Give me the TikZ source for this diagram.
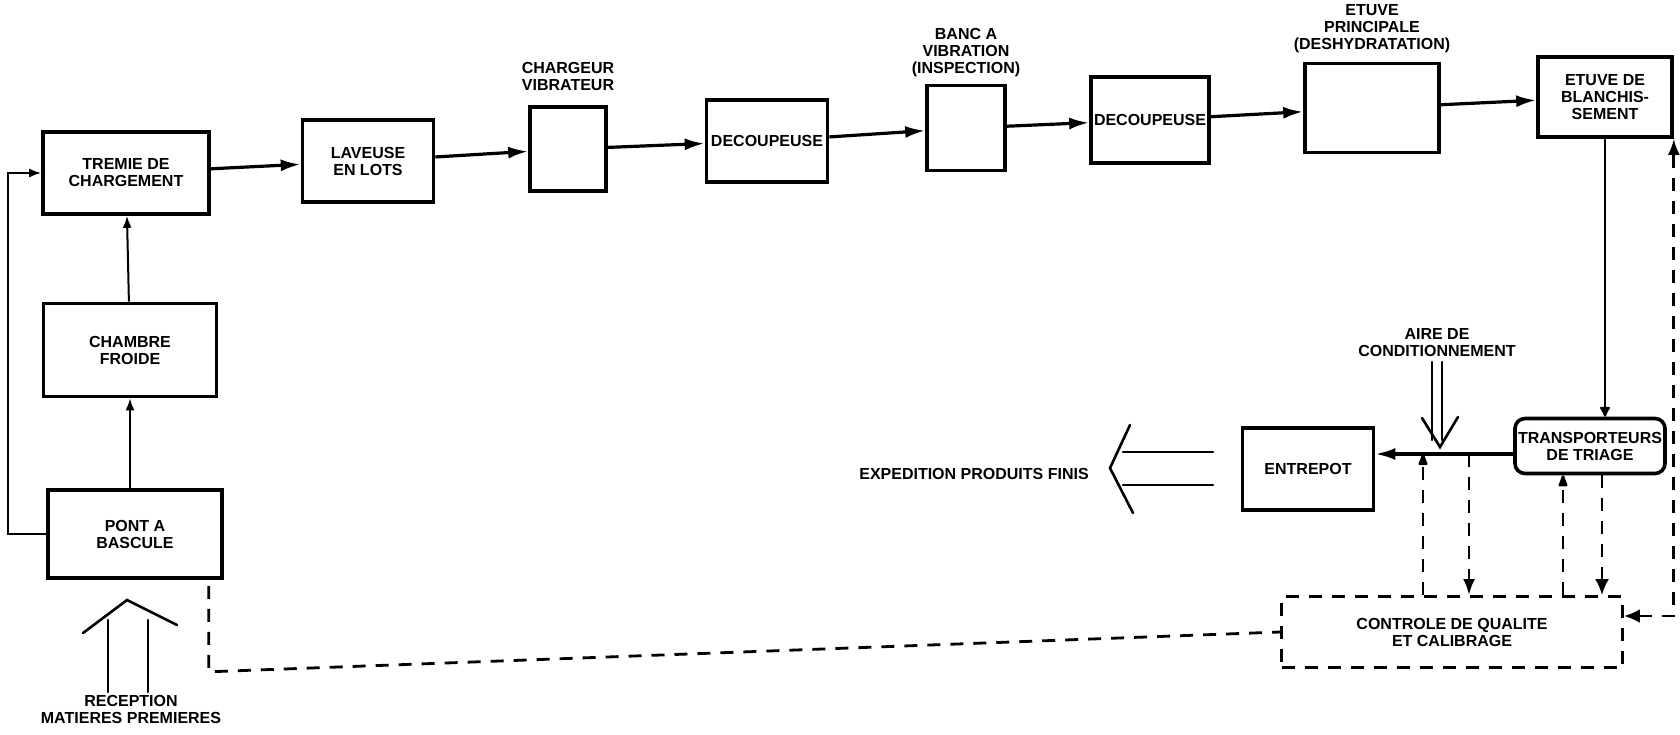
\documentclass[tikz,border=0pt]{standalone}
\usepackage{fontspec}
\setmainfont{Liberation Sans}
\usepackage{tikz}
\usetikzlibrary{arrows.meta, positioning}
\newcommand{\boxfont}{\fontsize{8}{8.5}\selectfont\bfseries}

\begin{document}
\begin{tikzpicture}[x=0.5pt,y=-0.5pt,
  box/.style={draw, line width=1.8pt, align=center, inner sep=1pt, font=\boxfont},
  lbl/.style={align=center, inner sep=0pt, font=\boxfont},
  flow/.style={line width=1.6pt, -{Latex[length=10pt,width=6pt]}},
  thin/.style={line width=1pt},
  dline/.style={line width=1.4pt, dash pattern=on 6.5pt off 5pt},
  hollow/.style={line width=1.3pt, line cap=round, line join=miter}]
  \useasboundingbox (0,0) rectangle (1680,734);
  % Ligne principale
  \node[box, minimum width=83pt, minimum height=41pt] (trem) at (126,173) {TREMIE DE\\CHARGEMENT};
  \node[box, minimum width=65.5pt, minimum height=41pt] (lav) at (368,161) {LAVEUSE\\EN LOTS};
  \node[box, minimum width=38pt, minimum height=42pt] (charg) at (568,149) {};
  \node[box, minimum width=60.5pt, minimum height=41pt] (dec1) at (767,141) {DECOUPEUSE};
  \node[box, minimum width=39pt, minimum height=42.5pt] (banc) at (966,128) {};
  \node[box, minimum width=59pt, minimum height=43pt] (dec2) at (1150,120) {DECOUPEUSE};
  \node[box, minimum width=67pt, minimum height=44.5pt] (etuve) at (1372,108) {};
  \node[box, minimum width=67pt, minimum height=40pt] (blanch) at (1605,97) {ETUVE DE\\BLANCHIS-\\SEMENT};
  \node[lbl, above=7pt of charg] (chargl) {CHARGEUR\\VIBRATEUR};
  \node[lbl, above=3pt of banc] (bancl) {BANC A\\VIBRATION\\(INSPECTION)};
  \node[lbl, above=4pt of etuve] (etuvel) {ETUVE\\PRINCIPALE\\(DESHYDRATATION)};
  \draw[flow] (trem) -- (lav);
  \draw[flow] (lav) -- (charg);
  \draw[flow] (charg) -- (dec1);
  \draw[flow] (dec1) -- (banc);
  \draw[flow] (banc) -- (dec2);
  \draw[flow] (dec2) -- (etuve);
  \draw[flow] (etuve) -- (blanch);
  % Reception
  \node[box, minimum width=86.5pt, minimum height=46.5pt] (chamb) at (130,350) {CHAMBRE\\FROIDE};
  \node[box, minimum width=87pt, minimum height=44pt] (pont) at (135,534) {PONT A\\BASCULE};
  \node[lbl] (recep) at (131,709) {RECEPTION\\MATIERES PREMIERES};
  \draw[thin,-{Latex[length=6pt,width=4.5pt]}] (pont.north -| chamb.south) -- (chamb.south);
  \draw[thin,-{Latex[length=6pt,width=4.5pt]}] (chamb) -- (trem);
  \draw[thin,-{Latex[length=6pt,width=4.5pt]}] (pont.west) -- ++(-38,0) |- (trem.west);
  \draw[hollow] (83,633) -- (127,600) -- (177,625);
  \draw[hollow] (108,620) -- (108,692) (148,620) -- (148,692);
  % Triage et expedition
  \node[box, rounded corners=5pt, minimum width=75pt, minimum height=27.5pt] (transp) at (1590,446) {TRANSPORTEURS\\DE TRIAGE};
  \node[box, minimum width=65.5pt, minimum height=41pt] (entrep) at (1308,469) {ENTREPOT};
  \node[lbl] (aire) at (1437,343) {AIRE DE\\CONDITIONNEMENT};
  \node[lbl] (expl) at (974,474) {EXPEDITION PRODUITS FINIS};
  \draw[thin,-{Latex[round,length=6pt,width=6pt]}] (blanch.south) -- (blanch.south |- transp.north);
  \coordinate (jn) at ([yshift=-4pt]transp.west);
  \draw[flow] (jn) -- (jn -| entrep.east);
  \draw[hollow] (1422,418) -- (1440,447) -- (1458,417);
  \draw[hollow] (1432,362) -- (1432,440) (1442,362) -- (1442,440);
  \draw[hollow] (1130,425) -- (1110,468) -- (1133,513);
  \draw[hollow] (1123,452) -- (1213,452) (1123,485) -- (1213,485);
  % Controle de qualite
  \node[box, dash pattern=on 6.5pt off 5pt, line width=1.4pt, minimum width=170.5pt, minimum height=35.5pt] (ctrl) at (1452,632) {CONTROLE DE QUALITE\\ET CALIBRAGE};
  \draw[dline,-{Latex[round,length=8pt,width=5.5pt]}] ([xshift=-14.5pt]ctrl.north) -- ([xshift=-14.5pt]ctrl.north |- jn);
  \draw[dline,-{Latex[length=8pt,width=6pt]}] ([xshift=8.5pt]ctrl.north |- jn) -- ([xshift=8.5pt]ctrl.north);
  \draw[dline,-{Latex[round,length=8pt,width=5.5pt]}] ([xshift=55.5pt]ctrl.north) -- ([xshift=55.5pt]ctrl.north |- transp.south);
  \draw[dline,-{Latex[length=8pt,width=7pt]}] ([xshift=75pt]ctrl.north |- transp.south) -- ([xshift=75pt]ctrl.north);
  \draw[dline,{Latex[length=8pt,width=7pt]}-{Latex[length=8pt,width=6pt]}] ([yshift=8pt]ctrl.east) -| (blanch.south east);
  \draw[dline] ([xshift=-7.5pt]pont.south east) ++(0,6) -- ++(0,86) -- (ctrl.west);
\end{tikzpicture}
\end{document}
